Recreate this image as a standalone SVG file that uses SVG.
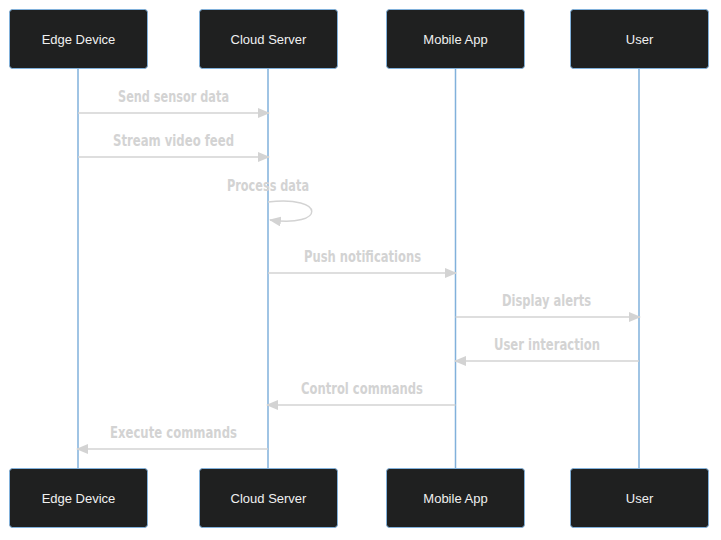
<svg xmlns="http://www.w3.org/2000/svg" width="721" height="540" viewBox="0 0 721 540">
<defs>
<style>
.actor{fill:#1f2020;stroke:#81b1db;stroke-width:1}
.atext{fill:#f0f0f0;font-family:"Liberation Sans",Arial,sans-serif;font-size:13px;text-anchor:middle;dominant-baseline:central}
.life{stroke:#81b1db;stroke-width:1.5}
.msg{stroke:#d3d3d3;stroke-width:1.5;fill:none}
.mtext{fill:#d3d3d3;font-family:"DejaVu Sans Condensed","DejaVu Sans",sans-serif;font-weight:bold;font-size:15px;text-anchor:middle}
</style>
<marker id="arrow" viewBox="0 0 12 10" refX="11" refY="5" markerWidth="12" markerHeight="10" markerUnits="userSpaceOnUse" orient="auto">
<path d="M0,0 L12,5 L0,10 z" fill="#d3d3d3"/>
</marker>
</defs>
<rect width="721" height="540" fill="#ffffff"/>
<g id="lifelines">
<line class="life" x1="78" y1="68" x2="78" y2="469"/>
<line class="life" x1="268" y1="68" x2="268" y2="469"/>
<line class="life" x1="455.5" y1="68" x2="455.5" y2="469"/>
<line class="life" x1="639" y1="68" x2="639" y2="469"/>
</g>
<g id="edge-top"><rect class="actor" x="9.5" y="9.5" width="138" height="59" rx="3"/><text class="atext" x="78.5" y="39.5">Edge Device</text></g>
<g id="cloud-top"><rect class="actor" x="199.5" y="9.5" width="138" height="59" rx="3"/><text class="atext" x="268.5" y="39.5">Cloud Server</text></g>
<g id="mobile-top"><rect class="actor" x="386.5" y="9.5" width="138" height="59" rx="3"/><text class="atext" x="455.5" y="39.5">Mobile App</text></g>
<g id="user-top"><rect class="actor" x="570.5" y="9.5" width="138" height="59" rx="3"/><text class="atext" x="639.5" y="39.5">User</text></g>
<g id="edge-bottom"><rect class="actor" x="9.5" y="468.5" width="138" height="59" rx="3"/><text class="atext" x="78.5" y="498.5">Edge Device</text></g>
<g id="cloud-bottom"><rect class="actor" x="199.5" y="468.5" width="138" height="59" rx="3"/><text class="atext" x="268.5" y="498.5">Cloud Server</text></g>
<g id="mobile-bottom"><rect class="actor" x="386.5" y="468.5" width="138" height="59" rx="3"/><text class="atext" x="455.5" y="498.5">Mobile App</text></g>
<g id="user-bottom"><rect class="actor" x="570.5" y="468.5" width="138" height="59" rx="3"/><text class="atext" x="639.5" y="498.5">User</text></g>
<g id="connectors">
<line class="msg" x1="78" y1="113" x2="269" y2="113" marker-end="url(#arrow)"/>
<line class="msg" x1="78" y1="157" x2="269" y2="157" marker-end="url(#arrow)"/>
<path class="msg" d="M268,202 C326,195 326,228 270,220" marker-end="url(#arrow)"/>
<line class="msg" x1="268" y1="273" x2="456" y2="273" marker-end="url(#arrow)"/>
<line class="msg" x1="455.5" y1="317" x2="640" y2="317" marker-end="url(#arrow)"/>
<line class="msg" x1="639" y1="361" x2="455" y2="361" marker-end="url(#arrow)"/>
<line class="msg" x1="455.5" y1="405" x2="267" y2="405" marker-end="url(#arrow)"/>
<line class="msg" x1="268" y1="449" x2="77" y2="449" marker-end="url(#arrow)"/>
</g>
<g id="labels">
<text class="mtext" x="173.5" y="102" textLength="111" lengthAdjust="spacingAndGlyphs">Send sensor data</text>
<text class="mtext" x="173.5" y="146" textLength="121" lengthAdjust="spacingAndGlyphs">Stream video feed</text>
<text class="mtext" x="268" y="191" textLength="82" lengthAdjust="spacingAndGlyphs">Process data</text>
<text class="mtext" x="362.5" y="262" textLength="117" lengthAdjust="spacingAndGlyphs">Push notifications</text>
<text class="mtext" x="546.5" y="306" textLength="89" lengthAdjust="spacingAndGlyphs">Display alerts</text>
<text class="mtext" x="547" y="350" textLength="106" lengthAdjust="spacingAndGlyphs">User interaction</text>
<text class="mtext" x="362" y="394" textLength="122" lengthAdjust="spacingAndGlyphs">Control commands</text>
<text class="mtext" x="173.5" y="438" textLength="127" lengthAdjust="spacingAndGlyphs">Execute commands</text>
</g>
</svg>
